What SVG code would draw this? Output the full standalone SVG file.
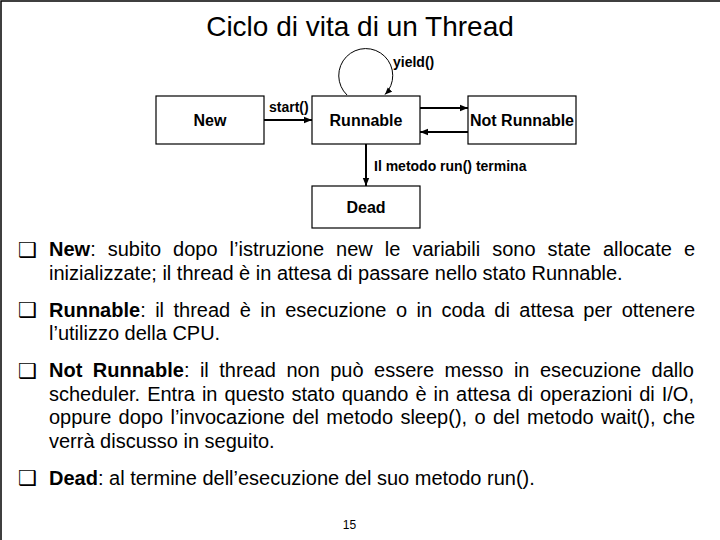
<svg xmlns="http://www.w3.org/2000/svg" width="720" height="540" viewBox="0 0 720 540">
<defs>
<marker id="arr" markerUnits="userSpaceOnUse" markerWidth="8" markerHeight="8" refX="8" refY="4" orient="auto"><path d="M0,0.8 L8,4 L0,7.2 z" fill="#000"/></marker>
<marker id="arrs" markerUnits="userSpaceOnUse" markerWidth="7" markerHeight="7" refX="7" refY="3.5" orient="auto"><path d="M0,0.5 L7,3.5 L0,6.5 z" fill="#000"/></marker>
</defs>
<style>
.box{fill:#fff;stroke:#000;stroke-width:1.2}
.lbl{font-family:"Liberation Sans",Arial,sans-serif;font-weight:bold;font-size:16px;text-anchor:middle;fill:#000}
.small{font-family:"Liberation Sans",Arial,sans-serif;font-weight:bold;font-size:14px;fill:#000}
.conn{stroke:#000;stroke-width:2;fill:none}
.loop{stroke:#000;stroke-width:1;fill:none}
.title{font-family:"Liberation Sans",Arial,sans-serif;font-size:28px;text-anchor:middle;fill:#000}
.body{font-family:"Liberation Sans",Arial,sans-serif;font-size:20px;fill:#000}
.bul{font-family:"DejaVu Sans",sans-serif;font-size:21px;fill:#000}
.pg{font-family:"Liberation Sans",Arial,sans-serif;font-size:12px;text-anchor:middle;fill:#000}
</style>
<rect x="1" y="1" width="760" height="580" fill="#fff" stroke="#000" stroke-width="1.5"/>
<text class="title" x="360" y="36">Ciclo di vita di un Thread</text>

<g id="connectors">
<path class="loop" d="M347,95 A27,27 0 1 1 385,94.5" marker-end="url(#arrs)"/>
<line class="conn" x1="264" y1="120" x2="312" y2="120" marker-end="url(#arr)"/>
<line class="conn" x1="420" y1="108" x2="468" y2="108" marker-end="url(#arr)"/>
<line class="conn" x1="468" y1="132" x2="420" y2="132" marker-end="url(#arr)"/>
<line class="conn" x1="366" y1="144" x2="366" y2="186" marker-end="url(#arr)"/>
<text class="small" x="393" y="66.5">yield()</text>
<text class="small" x="269" y="112">start()</text>
<text class="small" x="374" y="171">Il metodo run() termina</text>
</g>

<g id="node-new">
<rect class="box" x="156" y="96" width="108" height="48"/>
<text class="lbl" x="210" y="126">New</text>
</g>
<g id="node-runnable">
<rect class="box" x="312" y="96" width="108" height="48"/>
<text class="lbl" x="366" y="126">Runnable</text>
</g>
<g id="node-notrunnable">
<rect class="box" x="468" y="96" width="108" height="48"/>
<text class="lbl" x="522" y="126">Not Runnable</text>
</g>
<g id="node-dead">
<rect class="box" x="312" y="186" width="108" height="42"/>
<text class="lbl" x="366" y="213">Dead</text>
</g>

<g id="text-body">
<text class="bul" x="18" y="256.5">❑</text>
<text class="body" x="49" y="256" word-spacing="6.46"><tspan font-weight="bold">New</tspan>: subito dopo l’istruzione new le variabili sono state allocate e</text>
<text class="body" x="49" y="279.5">inizializzate; il thread è in attesa di passare nello stato Runnable.</text>

<text class="bul" x="18" y="317">❑</text>
<text class="body" x="49" y="316.5" word-spacing="3.9"><tspan font-weight="bold">Runnable</tspan>: il thread è in esecuzione o in coda di attesa per ottenere</text>
<text class="body" x="49" y="340">l’utilizzo della CPU.</text>

<text class="bul" x="18" y="377.5">❑</text>
<text class="body" x="49" y="377" word-spacing="4.9"><tspan font-weight="bold">Not Runnable</tspan>: il thread non può essere messo in esecuzione dallo</text>
<text class="body" x="49" y="400.5" word-spacing="1.4">scheduler. Entra in questo stato quando è in attesa di operazioni di I/O,</text>
<text class="body" x="49" y="424" word-spacing="1.79">oppure dopo l’invocazione del metodo sleep(), o del metodo wait(), che</text>
<text class="body" x="49" y="447.5">verrà discusso in seguito.</text>

<text class="bul" x="18" y="485">❑</text>
<text class="body" x="49" y="484.5"><tspan font-weight="bold">Dead</tspan>: al termine dell’esecuzione del suo metodo run().</text>
</g>

<text class="pg" x="349.5" y="529">15</text>
</svg>
